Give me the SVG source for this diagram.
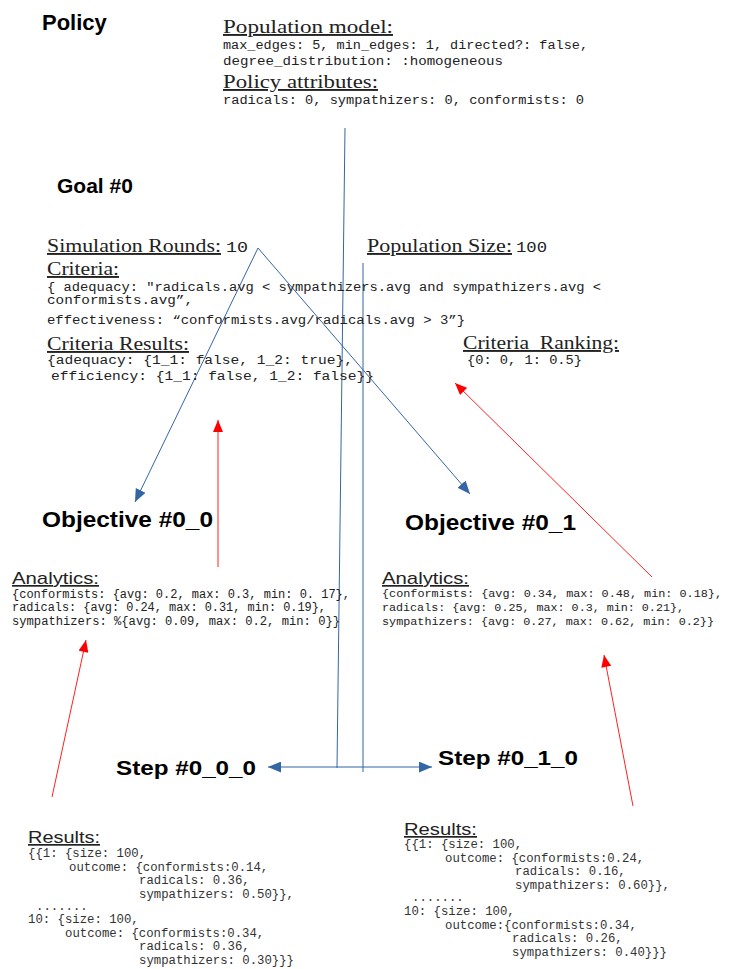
<svg xmlns="http://www.w3.org/2000/svg" width="731" height="969" viewBox="0 0 731 969">
  <style>
    .title { font-family: "Liberation Sans", Arial, sans-serif; font-weight: bold; fill: #000; }
    .head { font-family: "Liberation Serif", "Times New Roman", serif; font-size: 19px; fill: #222; text-decoration: underline; }
    .heads { font-family: "Liberation Sans", Arial, sans-serif; font-size: 17px; fill: #222; text-decoration: underline; }
    .mono { font-family: "Liberation Mono", "Courier New", monospace; font-size: 12.5px; fill: #222; }
    .monon { font-family: "Liberation Mono", "Courier New", monospace; font-size: 11.8px; fill: #222; }
    .monos { font-family: "Liberation Mono", "Courier New", monospace; font-size: 12.3px; fill: #333; }
    .val { font-family: "Liberation Mono", "Courier New", monospace; font-size: 15px; fill: #222; }
    .blue { stroke: #3465a4; stroke-width: 1; fill: none; }
    .red { stroke: #ff2020; stroke-width: 1; fill: none; }
  </style>
  <defs>
    <marker id="arrowBlue" viewBox="0 0 12 10" refX="12" refY="5" markerWidth="13" markerHeight="11" markerUnits="userSpaceOnUse" orient="auto-start-reverse">
      <path d="M0,0 L12,5 L0,10 Z" fill="#3465a4"/>
    </marker>
    <marker id="arrowRed" viewBox="0 0 12 10" refX="12" refY="5" markerWidth="13" markerHeight="10" markerUnits="userSpaceOnUse" orient="auto">
      <path d="M0,0 L12,5 L0,10 Z" fill="#ff0000"/>
    </marker>
  </defs>

  <!-- connectors -->
  <g id="connectors">
    <line class="blue" x1="345" y1="128" x2="337" y2="768"/>
    <line class="blue" x1="363" y1="263" x2="363" y2="772"/>
    <line class="blue" x1="268" y1="767" x2="432" y2="767" marker-start="url(#arrowBlue)" marker-end="url(#arrowBlue)"/>
    <line class="blue" x1="258" y1="248" x2="135" y2="502" marker-end="url(#arrowBlue)"/>
    <line class="blue" x1="258" y1="248" x2="470" y2="494" marker-end="url(#arrowBlue)"/>
    <line class="red" x1="218" y1="567" x2="218" y2="420" marker-end="url(#arrowRed)"/>
    <line class="red" x1="652" y1="577" x2="455" y2="383" marker-end="url(#arrowRed)"/>
    <line class="red" x1="52" y1="797" x2="86" y2="640" marker-end="url(#arrowRed)"/>
    <line class="red" x1="633" y1="806" x2="604" y2="655" marker-end="url(#arrowRed)"/>
  </g>

  <!-- policy -->
  <g id="policy">
    <text class="title" x="42" y="30" font-size="22">Policy</text>
    <text class="head" x="223" y="33" textLength="170" lengthAdjust="spacingAndGlyphs">Population model:</text>
    <text class="mono" x="223" y="49" textLength="365" lengthAdjust="spacingAndGlyphs">max_edges: 5, min_edges: 1, directed?: false,</text>
    <text class="mono" x="223" y="65" textLength="280" lengthAdjust="spacingAndGlyphs">degree_distribution: :homogeneous</text>
    <text class="head" x="223" y="88" textLength="155" lengthAdjust="spacingAndGlyphs">Policy attributes:</text>
    <text class="mono" x="223" y="104" textLength="361" lengthAdjust="spacingAndGlyphs">radicals: 0, sympathizers: 0, conformists: 0</text>
  </g>

  <!-- goal -->
  <g id="goal0">
    <text class="title" x="57" y="193" font-size="21">Goal #0</text>
    <text class="head" x="47" y="252" textLength="174" lengthAdjust="spacingAndGlyphs">Simulation Rounds:</text>
    <text class="val" x="226" y="252" textLength="22" lengthAdjust="spacingAndGlyphs">10</text>
    <text class="head" x="367" y="252" textLength="145" lengthAdjust="spacingAndGlyphs">Population Size:</text>
    <text class="val" x="516" y="252" textLength="31" lengthAdjust="spacingAndGlyphs">100</text>
    <text class="head" x="47" y="275" textLength="72" lengthAdjust="spacingAndGlyphs">Criteria:</text>
    <text class="mono" x="47" y="291" textLength="554" lengthAdjust="spacingAndGlyphs">{ adequacy: "radicals.avg &lt; sympathizers.avg and sympathizers.avg &lt;</text>
    <text class="mono" x="47" y="304" textLength="146" lengthAdjust="spacingAndGlyphs">conformists.avg”,</text>
    <text class="mono" x="47" y="324" textLength="418" lengthAdjust="spacingAndGlyphs">effectiveness: “conformists.avg/radicals.avg &gt; 3”}</text>
    <text class="head" x="47" y="350" textLength="142" lengthAdjust="spacingAndGlyphs">Criteria Results:</text>
    <text class="mono" x="47" y="364" textLength="306" lengthAdjust="spacingAndGlyphs">{adequacy: {1_1: false, 1_2: true},</text>
    <text class="mono" x="51" y="380" textLength="323" lengthAdjust="spacingAndGlyphs">efficiency: {1_1: false, 1_2: false}}</text>
    <text class="head" x="463" y="349" textLength="156" lengthAdjust="spacingAndGlyphs" xml:space="preserve">Criteria  Ranking:</text>
    <text class="mono" x="467" y="364" textLength="115" lengthAdjust="spacingAndGlyphs">{0: 0, 1: 0.5}</text>
  </g>

  <!-- objective 0_0 -->
  <g id="objective0_0">
    <text class="title" x="42" y="527" font-size="21.5" textLength="171" lengthAdjust="spacingAndGlyphs">Objective #0_0</text>
    <text class="heads" x="12" y="584" textLength="87" lengthAdjust="spacingAndGlyphs">Analytics:</text>
    <text class="mono" x="12" y="598" textLength="338" lengthAdjust="spacingAndGlyphs">{conformists: {avg: 0.2, max: 0.3, min: 0. 17},</text>
    <text class="mono" x="12" y="611" textLength="314" lengthAdjust="spacingAndGlyphs">radicals: {avg: 0.24, max: 0.31, min: 0.19},</text>
    <text class="mono" x="12" y="625" textLength="328" lengthAdjust="spacingAndGlyphs">sympathizers: %{avg: 0.09, max: 0.2, min: 0}}</text>
  </g>

  <!-- objective 0_1 -->
  <g id="objective0_1">
    <text class="title" x="405" y="530" font-size="21.5" textLength="171" lengthAdjust="spacingAndGlyphs">Objective #0_1</text>
    <text class="heads" x="382" y="584" textLength="87" lengthAdjust="spacingAndGlyphs">Analytics:</text>
    <text class="monon" x="382" y="597" textLength="340" lengthAdjust="spacingAndGlyphs">{conformists: {avg: 0.34, max: 0.48, min: 0.18},</text>
    <text class="monon" x="382" y="611" textLength="302" lengthAdjust="spacingAndGlyphs">radicals: {avg: 0.25, max: 0.3, min: 0.21},</text>
    <text class="monon" x="382" y="625" textLength="332" lengthAdjust="spacingAndGlyphs">sympathizers: {avg: 0.27, max: 0.62, min: 0.2}}</text>
  </g>

  <!-- step 0_0_0 -->
  <g id="step0_0_0">
    <text class="title" x="116" y="775" font-size="21" textLength="140" lengthAdjust="spacingAndGlyphs">Step #0_0_0</text>
    <text class="heads" x="28" y="843" font-size="18" textLength="72" lengthAdjust="spacingAndGlyphs">Results:</text>
    <text class="monos" x="28" y="857">{{1: {size: 100,</text>
    <text class="monos" x="69" y="871">outcome: {conformists:0.14,</text>
    <text class="monos" x="139" y="884">radicals: 0.36,</text>
    <text class="monos" x="139" y="898">sympathizers: 0.50}},</text>
    <text class="monos" x="36" y="910">.......</text>
    <text class="monos" x="28" y="923">10: {size: 100,</text>
    <text class="monos" x="65" y="937">outcome: {conformists:0.34,</text>
    <text class="monos" x="139" y="950">radicals: 0.36,</text>
    <text class="monos" x="139" y="964">sympathizers: 0.30}}}</text>
  </g>

  <!-- step 0_1_0 -->
  <g id="step0_1_0">
    <text class="title" x="438" y="765" font-size="21" textLength="140" lengthAdjust="spacingAndGlyphs">Step #0_1_0</text>
    <text class="heads" x="404" y="835" font-size="18" textLength="73" lengthAdjust="spacingAndGlyphs">Results:</text>
    <text class="monos" x="404" y="848">{{1: {size: 100,</text>
    <text class="monos" x="445" y="862">outcome: {conformists:0.24,</text>
    <text class="monos" x="515" y="875">radicals: 0.16,</text>
    <text class="monos" x="515" y="889">sympathizers: 0.60}},</text>
    <text class="monos" x="412" y="901">.......</text>
    <text class="monos" x="404" y="915">10: {size: 100,</text>
    <text class="monos" x="445" y="929">outcome:{conformists:0.34,</text>
    <text class="monos" x="512" y="942">radicals: 0.26,</text>
    <text class="monos" x="512" y="956">sympathizers: 0.40}}}</text>
  </g>
</svg>
